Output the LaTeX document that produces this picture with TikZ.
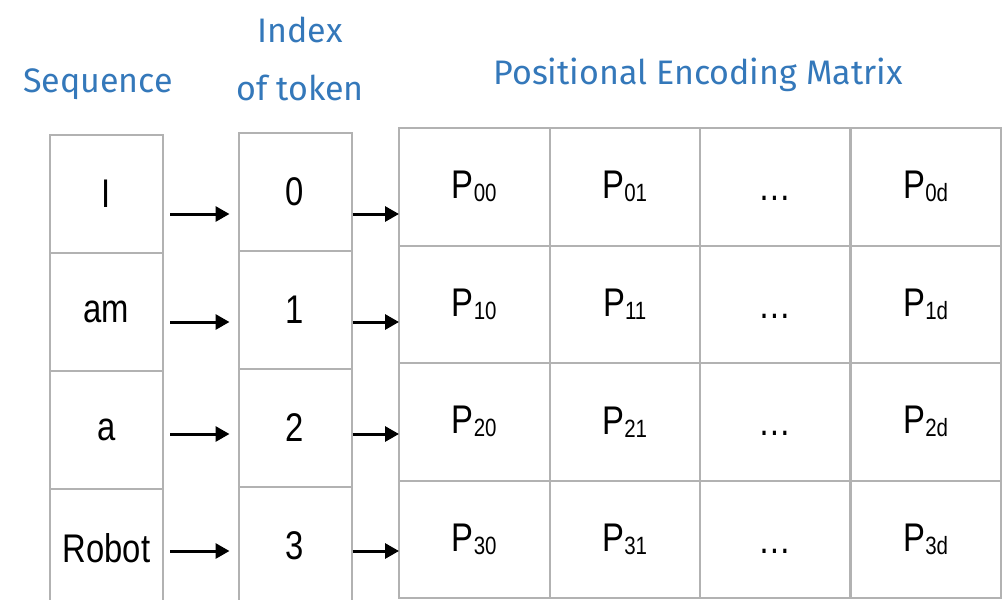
\documentclass[tikz,border=0pt]{standalone}
\usepackage{fontspec}
\setmainfont{Liberation Sans}[FakeStretch=0.82]
\newfontfamily\handfont{Fira Sans}
\usetikzlibrary{arrows.meta}
\usetikzlibrary{matrix}
\usetikzlibrary{positioning}

\definecolor{cellgray}{RGB}{178,178,178}
\definecolor{headblue}{RGB}{52,120,186}
\newcommand\pelem[1]{P\raisebox{-3pt}{\fontsize{25}{25}\selectfont #1}}
\newcommand\pdots{\vphantom{P}\dots}

\tikzset{
  cell/.style={draw=cellgray, line width=2pt, outer sep=0pt, inner sep=0pt,
    minimum width=113pt, minimum height=118pt, font=\fontsize{40}{40}\selectfont},
  pcell/.style={cell, anchor=center, minimum width=150.5pt, minimum height=117.5pt},
  head/.style={text=headblue, font=\handfont\fontsize{34}{34}\selectfont, inner sep=0pt},
  arr/.style={line width=3pt, -{Triangle[length=14pt,width=15pt]}}
}

\begin{document}
\begin{tikzpicture}[x=1pt,y=-1pt]
\useasboundingbox (0,0) rectangle (1005,600);
% headers
\node[head] (hseq) at (98,84) {Sequence};
\node[head] (hidx) at (300,30) {Index};
\node[head] (htok) at (300,88) {of token};
\node[head] (hpe) at (698,75) {Positional Encoding Matrix};
% sequence and index columns
\foreach \w [count=\i] in {I,am,a,Robot}
  \node[cell] (s\i) at (106.5,76+118*\i) {\w};
\foreach \n [count=\i] in {0,1,2,3}
  \node[cell] (i\i) at (295,74+118*\i) {\n};
% positional encoding matrix
\matrix (pe) [matrix of nodes, nodes={pcell}, column sep=-2pt, row sep=-2pt,
  inner sep=0pt, outer sep=0pt, anchor=north west] at (398,127)
{
|(p1)|{\pelem{00}} & {\pelem{01}} & {\pdots} & {\pelem{0d}} \\
|(p2)|{\pelem{10}} & {\pelem{11}} & {\pdots} & {\pelem{1d}} \\
|(p3)|{\pelem{20}} & {\pelem{21}} & {\pdots} & {\pelem{2d}} \\
|(p4)|{\pelem{30}} & {\pelem{31}} & {\pdots} & {\pelem{3d}} \\
};
% arrows
\foreach \i/\ay in {1/214,2/322,3/434,4/551}{
  \coordinate (a\i) at (0,\ay);
  \draw[arr] ([xshift=7pt]s\i.east |- a\i) -- ([xshift=-9pt]i\i.west |- a\i);
  \draw[arr] ([xshift=1pt]i\i.east |- a\i) -- (p\i.west |- a\i);
}
\end{tikzpicture}
\end{document}
